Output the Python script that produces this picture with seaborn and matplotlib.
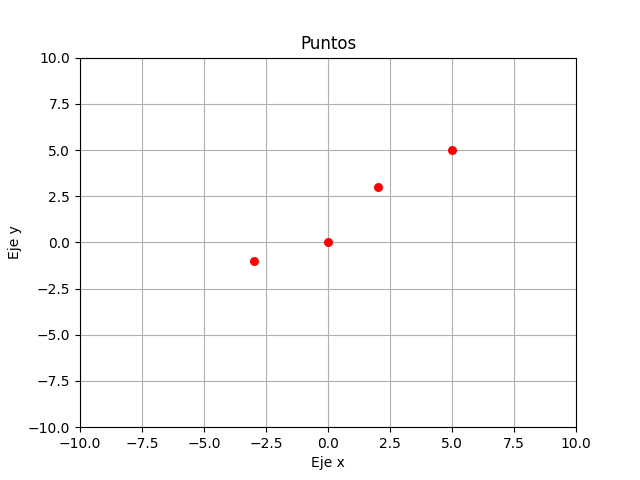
import matplotlib
matplotlib.use("Agg")
import matplotlib.pyplot as plt
import seaborn as sns

x_vals = [-3, 0, 2, 5]
y_vals = [-1, 0, 3, 5]

fig, ax = plt.subplots(figsize=(6.4, 4.8), dpi=100)
sns.scatterplot(x=x_vals, y=y_vals, color="red", s=42, linewidth=0, ax=ax, zorder=3)
ax.set_xlim(-10, 10)
ax.set_ylim(-10, 10)
ax.set_title("Puntos")
ax.set_xlabel("Eje x")
ax.set_ylabel("Eje y")
ax.grid(True)
ax.set_axisbelow(True)
plt.savefig("out.png")
